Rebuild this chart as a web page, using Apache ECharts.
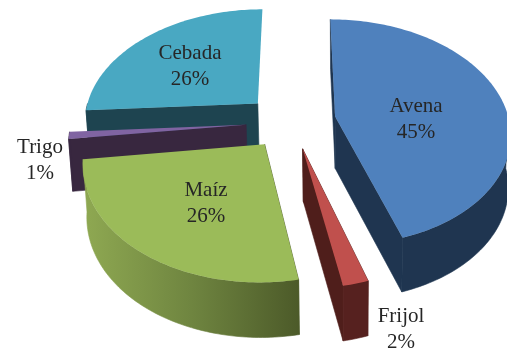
<!DOCTYPE html>
<html><head><meta charset="utf-8">
<style>html,body{margin:0;padding:0;background:#fff}#c{width:507px;height:348px}</style>
<script src="https://cdn.jsdelivr.net/npm/echarts@6/dist/echarts.min.js"></script>
</head><body><div id="c"></div>
<script>
const categories = ['Avena','Frijol','Maíz','Trigo','Cebada'];
const values = [45,2,26,1,26];

// Tilted-disc layout (not data)
const disc = {cx:296, cy:125, rx:175, ry:113, persp:0.14, height:52, vanishX:345, converge:0.015};
const explode = [[0.2256,-0.0755],[0.0368,0.2045],[-0.175,0.1657],[-0.285,-0.003],[-0.224,-0.195]];
const paintOrder = [3,4,2,1,0];
const labelAt = [[416,119],[401,329],[206,203],[40,160],[190,66]];
const topColors = ['#4f81bd','#c0504d','#9bbb59','#8064a2','#49a8c2'];
const wallColors = ['#1f3550','#56211f',
  {type:'linear',x:0,y:0,x2:1,y2:0,colorStops:[{offset:0,color:'#8fa952'},{offset:0.5,color:'#6f8540'},{offset:1,color:'#4c5a29'}]},
  '#38273f','#1e4450'];
const cutColors = ['#1f3550','#4f1e1b','#4c5a29','#38273f','#1e4450'];

const total = values.reduce((a,b)=>a+b,0);
function project(u,v,z){
  const w = 1/(1-disc.persp*v);
  let x = disc.cx + disc.rx*u*w;
  const y = disc.cy + disc.ry*v*w + z*disc.height*(1+0.3*(w-1));
  x += (disc.vanishX-x)*disc.converge*z;
  return [x,y];
}
function arcPoints(au,av,from,to,z){
  const steps = Math.max(4,Math.ceil((to-from)/0.02));
  const pts=[];
  for(let s=0;s<=steps;s++){
    const a=from+(to-from)*s/steps;
    pts.push(project(au+Math.sin(a),av-Math.cos(a),z));
  }
  return pts;
}
function renderItem(params, api){
  const i = params.dataIndex;
  let before = 0;
  for(let k=0;k<i;k++) before += values[k];
  const a0 = before/total*Math.PI*2, a1 = (before+api.value(0))/total*Math.PI*2;
  const [au,av] = explode[i];
  const topArc = arcPoints(au,av,a0,a1,0);
  const lowArc = arcPoints(au,av,a0,a1,1);
  const apexT=project(au,av,0), apexB=project(au,av,1);
  const z2=paintOrder[i]*10;
  const poly=(points,fill,dz,edge)=>({type:'polygon',shape:{points},
    style:{fill,stroke:edge?fill:null,lineWidth:edge?0.6:0},z2:z2+dz});
  const children=[poly([apexT,topArc[0],lowArc[0],apexB],cutColors[i],0,true)];
  // the closing cut face only shows on slices that end on the viewer's half
  if(a1<Math.PI) children.push(poly([apexT,topArc[topArc.length-1],lowArc[lowArc.length-1],apexB],cutColors[i],1,true));
  // outer wall only on the front half of the rim
  const f0=Math.max(a0,Math.PI/2), f1=Math.min(a1,Math.PI*1.5);
  if(f1>f0){
    children.push(poly(arcPoints(au,av,f0,f1,0).concat(arcPoints(au,av,f0,f1,1).reverse()),wallColors[i],2,true));
  }
  children.push(poly([apexT].concat(topArc),topColors[i],3,false));
  children.push({type:'text',x:labelAt[i][0],y:labelAt[i][1],z2:200,
     style:{text:api.value(1)+'\n'+Math.round(api.value(0)/total*100)+'%',
       fill:'#262626',fontFamily:'"Liberation Serif"',fontSize:21,lineHeight:26,align:'center',verticalAlign:'middle'}});
  return {type:'group',children};
}
const chart = echarts.init(document.getElementById('c'),null,{renderer:'canvas'});
chart.setOption({
  animation:false,
  backgroundColor:'#fff',
  series:[{type:'custom',coordinateSystem:'none',renderItem,
    dimensions:[{name:'value',type:'number'},{name:'name',type:'ordinal'}],
    data:categories.map((c,i)=>[values[i],c])}]
});
</script></body></html>
